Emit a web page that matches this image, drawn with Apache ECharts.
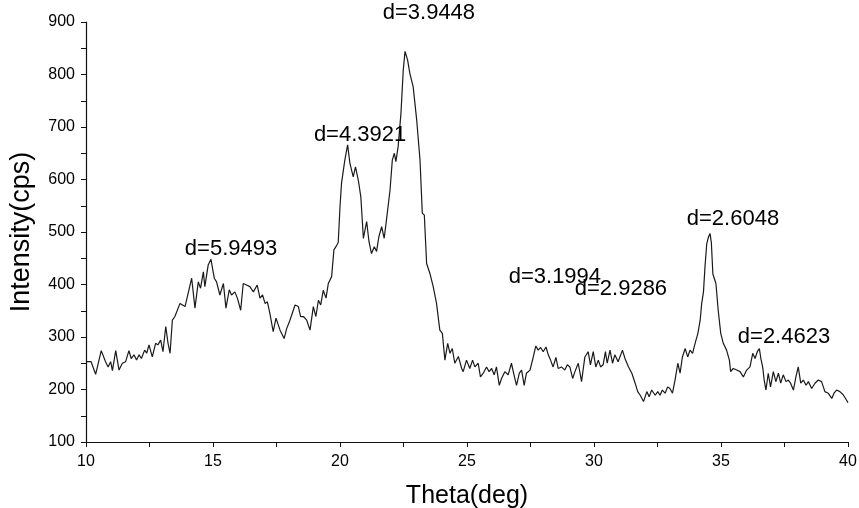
<!DOCTYPE html>
<html>
<head>
<meta charset="utf-8">
<script src="https://cdn.jsdelivr.net/npm/echarts@6/dist/echarts.min.js"></script>
<style>
html,body{margin:0;padding:0;background:#fff;}
#chart{width:859px;height:508px;}
</style>
</head>
<body>
<div id="chart"></div>
<script>
// 2-theta positions (deg)
const theta = [
10.0,10.2,10.38,10.6,10.77,10.87,10.97,11.04,11.17,11.3,11.43,11.56,11.69,11.78,11.89,11.99,12.09,12.18,12.31,12.39,12.48,12.61,12.74,12.83,12.94,13.03,13.14,13.23,13.31,13.4,
13.5,13.7,13.9,14.16,14.29,14.42,14.51,14.62,14.68,14.81,14.92,15.05,15.14,15.27,15.41,15.51,15.64,15.73,15.86,15.96,16.09,16.19,16.32,16.45,16.59,16.74,16.85,16.95,17.05,17.14,17.24,17.37,
17.48,17.64,17.8,17.9,18.03,18.23,18.36,18.45,18.56,18.69,18.82,18.95,19.05,19.15,19.24,19.34,19.45,19.54,19.67,19.76,19.84,19.93,
20.0,20.06,20.19,20.3,20.39,20.52,20.61,20.72,20.82,20.92,21.05,21.14,21.24,21.35,21.44,21.53,21.64,21.74,21.83,21.97,22.06,22.14,22.2,22.29,22.4,22.49,22.56,22.66,22.75,22.88,23.02,23.15,23.24,23.32,23.41,23.54,23.67,23.8,23.93,24.03,24.13,24.24,24.33,24.42,24.52,24.66,
24.79,24.85,24.98,25.11,25.22,25.31,25.44,25.53,25.64,25.77,25.87,25.97,26.07,26.16,26.27,26.36,26.49,26.62,26.75,26.85,26.95,27.06,27.15,27.25,27.34,27.48,27.61,27.71,27.8,27.9,28.0,28.11,28.2,28.29,28.39,28.5,28.59,28.72,28.85,28.95,29.05,29.16,29.25,29.38,
29.51,29.64,29.77,29.86,29.97,30.07,30.17,30.26,30.36,30.45,30.52,30.63,30.73,30.82,30.95,31.12,31.22,31.36,31.49,31.62,31.72,31.82,31.95,32.08,32.17,32.27,32.41,32.51,32.6,32.69,32.8,32.9,32.99,33.09,33.19,33.3,33.39,33.48,33.59,33.69,33.78,33.88,33.98,34.09,34.18,34.24,34.31,34.37,34.44,34.51,34.57,34.62,34.68,34.8,34.89,34.99,35.09,35.22,35.33,35.38,35.48,
35.62,35.75,35.88,36.01,36.14,36.25,36.34,36.43,36.51,36.57,36.64,36.7,36.77,36.86,36.95,37.06,37.16,37.26,37.35,37.45,37.56,37.65,37.74,37.85,37.95,38.04,38.14,38.24,38.35,38.44,38.57,38.7,38.83,38.96,39.09,39.22,39.36,39.45,39.55,39.68,39.81,39.94,40.0
];
// intensity (cps)
const intensity = [
253,253,229,274,253,243,253,236,274,237,250,253,274,259,266,256,266,259,275,269,285,262,288,285,294,272,320,288,269,332,
339,364,358,412,355,405,393,424,396,437,448,412,405,380,402,355,390,380,386,374,351,402,399,396,386,399,374,380,364,367,345,310,
336,313,297,316,332,361,358,339,339,332,313,358,339,370,361,389,374,402,415,466,472,480,
548,593,637,666,631,605,624,599,567,488,520,482,459,472,463,491,510,488,523,580,637,650,634,663,726,808,844,828,802,777,713,637,536,532,440,421,396,364,313,307,256,288,269,278,250,263,
240,234,256,240,256,243,250,224,231,243,234,240,228,243,208,221,234,228,250,228,208,231,237,208,231,237,262,283,275,280,272,281,266,256,243,261,240,243,237,247,243,221,234,250,
215,262,272,247,272,243,256,243,247,272,250,275,250,266,253,275,259,243,231,212,196,189,177,196,186,199,189,196,189,199,193,205,202,193,218,250,231,262,278,262,275,269,288,307,332,364,386,434,478,491,497,480,420,402,351,307,288,275,256,234,240,
237,234,224,237,243,269,259,272,278,259,243,218,199,231,205,234,215,231,212,228,215,218,212,199,224,243,212,218,208,215,202,212,218,215,196,193,183,193,199,196,190,180,175
];
// peak annotations
const labelText = ['d=5.9493','d=4.3921','d=3.9448','d=3.1994','d=2.9286','d=2.6048','d=2.4623'];
const labelX = [15.71,20.79,23.5,28.46,31.06,35.47,37.48];
const labelY = [468,685,917,414,391,525,300];

const xTicks = [10,15,20,25,30,35,40];
const yTicks = [100,200,300,400,500,600,700,800,900];

const chart = echarts.init(document.getElementById('chart'));
const font = 'Liberation Sans, Arial, sans-serif';
chart.setOption({
  animation:false,
  backgroundColor:'#fff',
  grid:{left:86,right:11,top:22,bottom:66,containLabel:false,outerBoundsMode:'none'},
  xAxis:{
    type:'value',min:xTicks[0],max:xTicks[xTicks.length-1],interval:5,
    name:'Theta(deg)',nameLocation:'middle',nameGap:42,
    nameTextStyle:{fontFamily:font,fontSize:25,color:'#000'},
    axisLine:{show:true,lineStyle:{color:'#111',width:1.2}},
    axisTick:{show:true,inside:false,length:5,lineStyle:{color:'#111'}},
    minorTick:{show:true,splitNumber:2,length:5,lineStyle:{color:'#111'}},
    splitLine:{show:false},
    axisLabel:{fontFamily:font,fontSize:16,color:'#000',margin:12}
  },
  yAxis:{
    type:'value',min:yTicks[0],max:yTicks[yTicks.length-1],interval:100,
    name:'Intensity(cps)',nameLocation:'middle',nameGap:51,
    nameTextStyle:{fontFamily:font,fontSize:27,color:'#000'},
    axisLine:{show:true,lineStyle:{color:'#111',width:1.2}},
    axisTick:{show:true,inside:false,length:5,lineStyle:{color:'#111'}},
    minorTick:{show:true,splitNumber:2,length:5,lineStyle:{color:'#111'}},
    splitLine:{show:false},
    axisLabel:{fontFamily:font,fontSize:16,color:'#000',margin:11}
  },
  series:[
    {
      type:'line',
      data:theta.map((t,i)=>[t,intensity[i]]),
      showSymbol:false,symbol:'none',
      lineStyle:{color:'#1a1a1a',width:1.2},
      silent:true
    },
    {
      type:'scatter',
      clip:false,
      symbolSize:1,
      itemStyle:{color:'rgba(0,0,0,0)'},
      data:labelX.map((x,i)=>({value:[x,labelY[i]],name:labelText[i]})),
      label:{show:true,position:'inside',formatter:p=>p.name,
        fontFamily:font,fontSize:22,color:'#000',opacity:1},
      silent:true,
      z:5
    }
  ]
});
</script>
</body>
</html>
